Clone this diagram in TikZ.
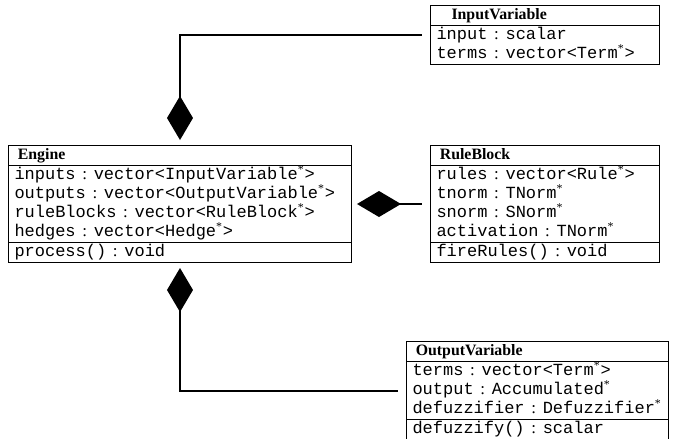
\documentclass[tikz,border=0pt]{standalone}
\usepackage{fontspec}
\setmainfont{Liberation Serif}
\setmonofont{Liberation Mono}
\usetikzlibrary{shapes.multipart, arrows.meta}
\tikzstyle{umlclass} = [draw, line width=0.6pt, rectangle split, rectangle split parts=3, anchor=north west, inner xsep=3.6pt, inner ysep=0pt, align=left, font=\fontsize{10.2}{11.4}\selectfont]
\tikzstyle{compos} = [line width=1.2pt, {Diamond[length=26.4pt,width=15.6pt]}-, shorten <=3pt, shorten >=4.8pt]
\newcommand{\cname}[1]{\strut\hspace{2pt}{\fontsize{9.5}{11.4}\selectfont\bfseries #1}}
\newcommand{\member}[2]{\strut\texttt{#1}\hspace{4pt}:\hspace{4pt}\texttt{#2}}
\newcommand{\ptr}{\smash{\normalfont\textsuperscript{*}}}

\begin{document}
\begin{tikzpicture}[x=0.6pt, y=-0.6pt]
\useasboundingbox (0,0) rectangle (677,439);

\node[umlclass, rectangle split parts=2, text width=130.2pt] (inputvar) at (430,5)
{\hspace{7pt}\cname{InputVariable}
\nodepart{second}\member{input}{scalar}\\
\member{terms}{vector<Term\ptr>}};

\node[umlclass, text width=198.6pt] (engine) at (8,145)
{\cname{Engine}
\nodepart{second}\member{inputs}{vector<InputVariable\ptr>}\\
\member{outputs}{vector<OutputVariable\ptr>}\\
\member{ruleBlocks}{vector<RuleBlock\ptr>}\\
\member{hedges}{vector<Hedge\ptr>}
\nodepart{third}\member{process()}{void}};

\node[umlclass, text width=130.2pt] (ruleblock) at (430,145)
{\cname{RuleBlock}
\nodepart{second}\member{rules}{vector<Rule\ptr>}\\
\member{tnorm}{TNorm\ptr}\\
\member{snorm}{SNorm\ptr}\\
\member{activation}{TNorm\ptr}
\nodepart{third}\member{fireRules()}{void}};

\node[umlclass, text width=150pt] (outputvar) at (406,341)
{\cname{OutputVariable}
\nodepart{second}\member{terms}{vector<Term\ptr>}\\
\member{output}{Accumulated\ptr}\\
\member{defuzzifier}{Defuzzifier\ptr}
\nodepart{third}\member{defuzzify()}{scalar}};

\draw[compos] (engine.north) |- (inputvar.west);
\draw[compos] (engine.east) -- (ruleblock.west);
\draw[compos] (engine.south) |- (outputvar.west);
\end{tikzpicture}
\end{document}
